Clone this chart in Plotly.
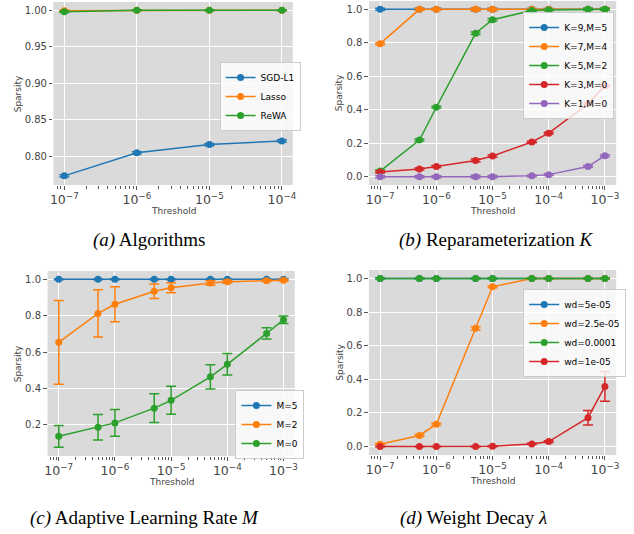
import plotly.graph_objects as go

W, H = 634, 534

# ---------------- data ----------------
# (a) Algorithms
thr_a = [1e-7, 1e-6, 1e-5, 1e-4]
sgd_l1 = [0.7735, 0.805, 0.8163, 0.8213]
sgd_l1_err = [0.0015, 0.0015, 0.0015, 0.0015]
lasso = [0.9995, 1.0, 1.0, 1.0]
lasso_err = [0.001, 0.0006, 0.0006, 0.0006]
rewa = [0.998, 1.0, 1.0, 1.0]
rewa_err = [0.001, 0.0006, 0.0006, 0.0006]

# shared thresholds for (b), (c), (d)
thr = [1e-7, 5e-7, 1e-6, 5e-6, 1e-5, 5e-5, 1e-4, 5e-4, 1e-3]

# (b) Reparameterization K
k9m5 = [1.0, 1.0, 1.0, 1.0, 1.0, 1.0, 1.0, 1.0, 1.0]
k7m4 = [0.795, 1.0, 1.0, 1.0, 1.0, 1.0, 1.0, 1.0, 1.0]
k5m2 = [0.033, 0.219, 0.415, 0.857, 0.938, 0.993, 0.996, 1.0, 1.0]
k3m0 = [0.028, 0.046, 0.060, 0.097, 0.123, 0.207, 0.260, 0.435, 0.543]
k1m0 = [0.0, 0.0, 0.0, 0.0, 0.0, 0.005, 0.012, 0.060, 0.125]
k_err = [0.006, 0.006, 0.006, 0.008, 0.007, 0.005, 0.005, 0.006, 0.006]

# (c) Adaptive learning rate M
m5 = [1.0, 1.0, 1.0, 1.0, 1.0, 1.0, 1.0, 1.0, 1.0]
m5_err = [0.002, 0.002, 0.002, 0.002, 0.002, 0.002, 0.002, 0.002, 0.002]
m2 = [0.654, 0.813, 0.863, 0.935, 0.954, 0.980, 0.987, 0.993, 0.995]
m2_err = [0.23, 0.13, 0.096, 0.04, 0.027, 0.012, 0.008, 0.005, 0.004]
m0 = [0.137, 0.187, 0.211, 0.292, 0.335, 0.464, 0.533, 0.703, 0.778]
m0_err = [0.06, 0.07, 0.073, 0.079, 0.077, 0.067, 0.059, 0.031, 0.021]

# (d) Weight decay
wd_5e5 = [1.0, 1.0, 1.0, 1.0, 1.0, 1.0, 1.0, 1.0, 1.0]
wd_25e6 = [0.014, 0.066, 0.133, 0.703, 0.950, 1.0, 1.0, 1.0, 1.0]
wd_25e6_err = [0.004, 0.006, 0.006, 0.01, 0.006, 0.002, 0.002, 0.002, 0.002]
wd_1e4 = [1.0, 1.0, 1.0, 1.0, 1.0, 1.0, 1.0, 1.0, 1.0]
wd_1e5 = [0.0, 0.0, 0.0, 0.0, 0.002, 0.016, 0.030, 0.172, 0.358]
wd_1e5_err = [0.001, 0.001, 0.001, 0.002, 0.003, 0.004, 0.005, 0.043, 0.089]
flat_err = [0.002, 0.002, 0.002, 0.002, 0.002, 0.002, 0.002, 0.002, 0.002]

captions = ["<i>(a)</i> Algorithms",
            "<i>(b)</i> Reparameterization <i>K</i>",
            "<i>(c)</i> Adaptive Learning Rate <i>M</i>",
            "<i>(d)</i> Weight Decay <i>λ</i>"]

BLUE, ORANGE, GREEN, RED, PURPLE = "#1f77b4", "#ff7f0e", "#2ca02c", "#d62728", "#9467bd"
BG = "#DADADA"
TXT = "#444444"
FONT = "DejaVu Sans"

fig = go.Figure()


def add(x, y, err, name, color, k):
    sfx = "" if k == 1 else str(k)
    fig.add_trace(go.Scatter(
        x=x, y=y, name=name, mode="lines+markers",
        line=dict(color=color, width=1.5),
        marker=dict(color=color, size=7),
        error_y=dict(type="data", array=err, color=color, thickness=1.5, width=5),
        xaxis="x" + sfx, yaxis="y" + sfx,
        legend="legend" + sfx,
    ))


add(thr_a, sgd_l1, sgd_l1_err, "SGD-L1", BLUE, 1)
add(thr_a, lasso, lasso_err, "Lasso", ORANGE, 1)
add(thr_a, rewa, rewa_err, "ReWA", GREEN, 1)

add(thr, k9m5, k_err, "K=9,M=5", BLUE, 2)
add(thr, k7m4, k_err, "K=7,M=4", ORANGE, 2)
add(thr, k5m2, k_err, "K=5,M=2", GREEN, 2)
add(thr, k3m0, k_err, "K=3,M=0", RED, 2)
add(thr, k1m0, k_err, "K=1,M=0", PURPLE, 2)

add(thr, m5, m5_err, "M=5", BLUE, 3)
add(thr, m2, m2_err, "M=2", ORANGE, 3)
add(thr, m0, m0_err, "M=0", GREEN, 3)

add(thr, wd_5e5, flat_err, "wd=5e-05", BLUE, 4)
add(thr, wd_25e6, wd_25e6_err, "wd=2.5e-05", ORANGE, 4)
add(thr, wd_1e4, flat_err, "wd=0.0001", GREEN, 4)
add(thr, wd_1e5, wd_1e5_err, "wd=1e-05", RED, 4)

# panel boxes in pixels: (left, right, top, bottom)
boxes = [(51, 293, 2, 185), (370, 620, 1, 185), (45, 295, 271, 456), (370, 620, 270, 455)]
xranges = [[-7.15, -3.85], [-7.2, -2.8], [-7.2, -2.8], [-7.2, -2.8]]
yranges = [[0.761, 1.0113], [-0.05, 1.05], [0.029, 1.046], [-0.05, 1.05]]
ytickvals = [[0.80, 0.85, 0.90, 0.95, 1.00],
             [0.0, 0.2, 0.4, 0.6, 0.8, 1.0],
             [0.2, 0.4, 0.6, 0.8, 1.0],
             [0.0, 0.2, 0.4, 0.6, 0.8, 1.0]]
yfmt = [".2f", ".1f", ".1f", ".1f"]

tickfont = dict(family=FONT, size=10, color=TXT)
layout = dict(width=W, height=H, margin=dict(l=0, r=0, t=0, b=0),
              paper_bgcolor="white", plot_bgcolor=BG,
              font=dict(family=FONT, size=10, color=TXT), showlegend=True)

annotations = []
for i, ((l, r, t, b), xr, yr, tv, fmt) in enumerate(zip(boxes, xranges, yranges, ytickvals, yfmt)):
    sfx = "" if i == 0 else str(i + 1)
    layout["xaxis" + sfx] = dict(
        type="log", range=xr, domain=[l / W, r / W], anchor="y" + sfx,
        dtick=1, exponentformat="power", showexponent="all",
        showgrid=True, gridcolor="white", gridwidth=1, zeroline=False, showline=False,
        ticks="outside", ticklen=3.5, tickwidth=1, tickcolor="#555555",
        tickfont=tickfont,
        minor=dict(dtick="D1", ticks="outside", ticklen=2.5, tickwidth=0.8,
                   tickcolor="#555555", showgrid=False),
    )
    layout["yaxis" + sfx] = dict(
        range=yr, domain=[1 - b / H, 1 - t / H], anchor="x" + sfx,
        tickvals=tv, tickformat=fmt,
        showgrid=True, gridcolor="white", gridwidth=1, zeroline=False, showline=False,
        ticks="outside", ticklen=3.5, tickwidth=1, tickcolor="#555555",
        tickfont=tickfont,
    )
    # axis titles
    annotations.append(dict(text="Threshold", x=(l + r) / 2 / W, y=1 - (b + 26) / H,
                            xref="paper", yref="paper", showarrow=False,
                            font=dict(family=FONT, size=9, color=TXT),
                            xanchor="center", yanchor="middle"))
    sx = 15 if i in (0, 2) else 340
    annotations.append(dict(text="Sparsity", x=sx / W, y=1 - ((t + b) / 2) / H,
                            xref="paper", yref="paper", showarrow=False, textangle=-90,
                            font=dict(family=FONT, size=9, color=TXT),
                            xanchor="center", yanchor="middle"))

cap_pos = [(148, 240), (499, 240), (143, 518), (476, 518)]
for cap, (cx, cy) in zip(captions, cap_pos):
    annotations.append(dict(text=cap, x=cx / W, y=1 - cy / H, xref="paper", yref="paper",
                            showarrow=False, xanchor="center", yanchor="middle",
                            font=dict(family="Liberation Serif", size=19, color="black")))

layout["annotations"] = annotations

leg_common = dict(bgcolor="rgba(255,255,255,0.8)", bordercolor="#CCCCCC", borderwidth=1,
                  font=dict(family=FONT, size=9, color="black"),
                  xanchor="left", yanchor="top", itemwidth=30)
leg_pos = [(219, 62), (526, 12), (235, 390), (526, 289)]
for i, (lx, ly) in enumerate(leg_pos):
    key = "legend" if i == 0 else "legend" + str(i + 1)
    layout[key] = dict(leg_common, x=lx / W, y=1 - ly / H)

fig.update_layout(**layout)
fig.write_html("out.html", config={"displayModeBar": False},
               post_script="document.body.style.margin='0';document.body.style.padding='0';")
